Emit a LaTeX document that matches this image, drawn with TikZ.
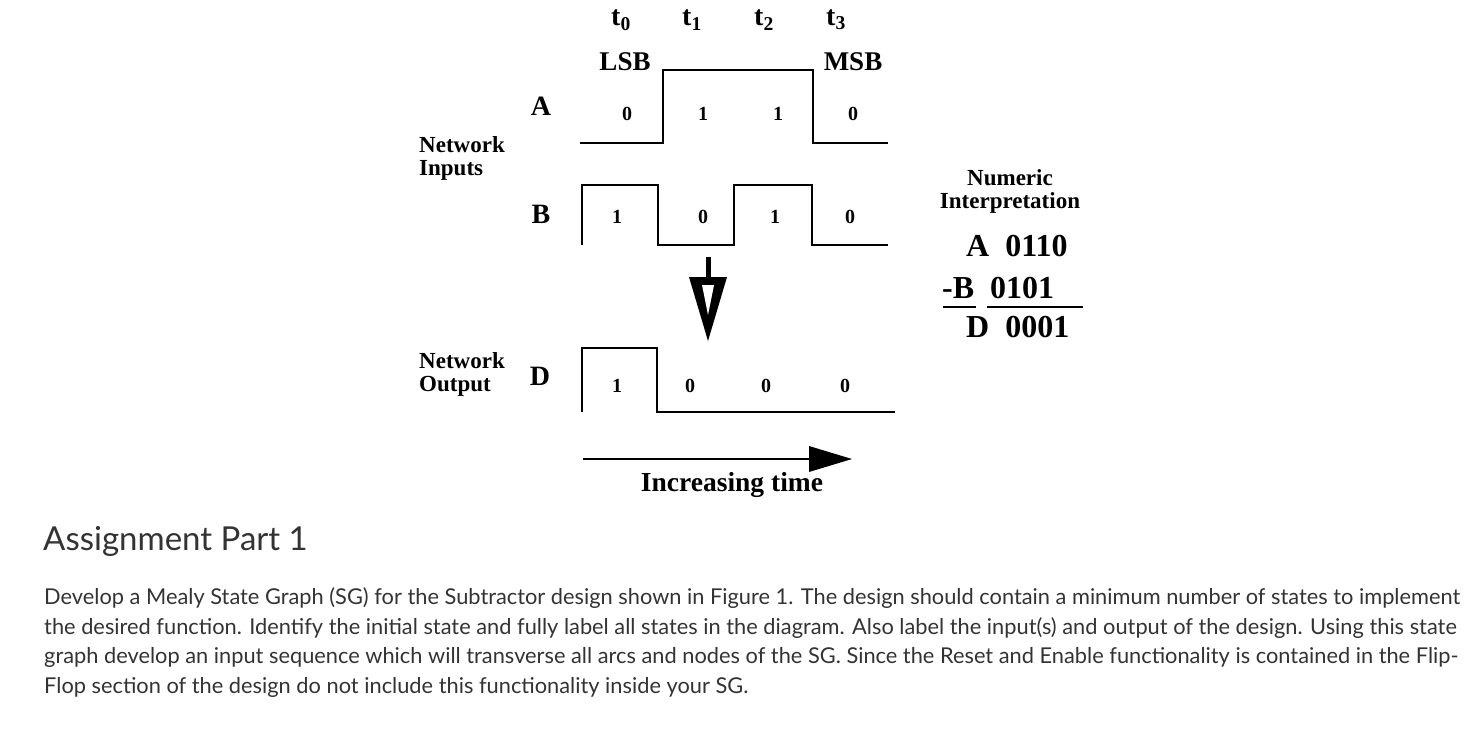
\documentclass[tikz,border=0pt]{standalone}
\usepackage{fontspec}
\setmainfont{Liberation Serif}
\newfontfamily\lato{Lato}
\begin{document}
\begin{tikzpicture}[x=1pt,y=-1pt,
  wave/.style={line width=2pt,line join=miter},
  lbl/.style={font=\bfseries\fontsize{20}{22}\selectfont,inner sep=0pt},
  side/.style={font=\bfseries\fontsize{23}{23}\selectfont,inner sep=0pt,align=left,anchor=north west},
  big/.style={font=\bfseries\fontsize{28}{30}\selectfont,inner sep=0pt},
  num/.style={font=\bfseries\fontsize{32}{34}\selectfont,inner sep=0pt,anchor=west},
  txt/.style={font=\lato\fontsize{21.8}{24}\selectfont,text=black!80,anchor=west,inner sep=0pt}]
\useasboundingbox (0,0) rectangle (1482,728);
% time labels
\node[big] (t0) at (621,20) {t$_\mathbf{0}$};
\node[big] (t1) at (692,20) {t$_\mathbf{1}$};
\node[big] (t2) at (764,20) {t$_\mathbf{2}$};
\node[big] (t3) at (836,20) {t$_\mathbf{3}$};
\node[lbl,font=\bfseries\fontsize{27}{29}\selectfont] (lsb) at (625,62) {LSB};
\node[lbl,font=\bfseries\fontsize{27}{29}\selectfont] (msb) at (853,62) {MSB};
% A
\node[big] (A) at (541,106) {A};
\draw[wave] (580,143) -- (663,143) -- (663,70) -- (813,70) -- (813,143) -- (888,143);
\node[lbl] (a0) at (627,114) {0};
\node[lbl] (a1) at (703,114) {1};
\node[lbl] (a2) at (778,114) {1};
\node[lbl] (a3) at (853,114) {0};
\node[side] (ni) at (419,136) {Network\\Inputs};
% B
\node[big] (B) at (541,214) {B};
\draw[wave] (582,245) -- (582,185) -- (658,185) -- (658,245) -- (734,245) -- (734,185) -- (812,185) -- (812,245) -- (888,245);
\node[lbl] (b0) at (617,217) {1};
\node[lbl] (b1) at (703,217) {0};
\node[lbl] (b2) at (775,217) {1};
\node[lbl] (b3) at (850,217) {0};
% down arrow
\coordinate (s0) at (708,257);
\coordinate (s1) at (708,279);
\draw[line width=5pt] (s0) -- (s1);
\fill (689,277) -- (727,277) -- (708,341) -- cycle;
\fill[white] (702,285) -- (714,285) -- (708,315) -- cycle;
% D
\node[big] (D) at (540,376) {D};
\node[side] (no) at (419,352) {Network\\Output};
\draw[wave] (582,412) -- (582,348) -- (657,348) -- (657,412) -- (895,412);
\node[lbl] (d0) at (617,386) {1};
\node[lbl] (d1) at (690,386) {0};
\node[lbl] (d2) at (766,386) {0};
\node[lbl] (d3) at (845,386) {0};
% time arrow
\coordinate (ta) at (583,459);
\coordinate (tb) at (810,459);
\draw[line width=2pt] (ta) -- (tb);
\fill (809,446) -- (852,459) -- (809,472) -- cycle;
\node[lbl,font=\bfseries\fontsize{27.5}{29}\selectfont] (it) at (732,485) {Increasing time};
% numeric interpretation
\node[lbl,align=center,font=\bfseries\fontsize{23}{23}\selectfont] (nt) at (1010,191) {Numeric\\Interpretation};
\node[num] (na) at (966,246) {A\ \ 0110};
\node[num] (nb) at (942,288) {-B\ \ 0101};
\node[num] (nd) at (966,327) {D\ \ 0001};
\draw[line width=2.5pt] (943,307) -- (976,307);
\draw[line width=2.5pt] (987,307) -- (1083,307);
% text
\node[txt,font=\lato\fontsize{33}{35}\selectfont] (h) at (43,541) {Assignment Part 1};
\node[txt] (l1) at (44,598) {Develop a Mealy State Graph (SG) for the Subtractor design shown in Figure 1. The design should contain a minimum number of states to implement};
\node[txt] (l2) at (44,628) {the desired function. Identify the initial state and fully label all states in the diagram. Also label the input(s) and output of the design. Using this state};
\node[txt] (l3) at (44,657) {graph develop an input sequence which will transverse all arcs and nodes of the SG. Since the Reset and Enable functionality is contained in the Flip-};
\node[txt] (l4) at (44,687) {Flop section of the design do not include this functionality inside your SG.};
\end{tikzpicture}
\end{document}
